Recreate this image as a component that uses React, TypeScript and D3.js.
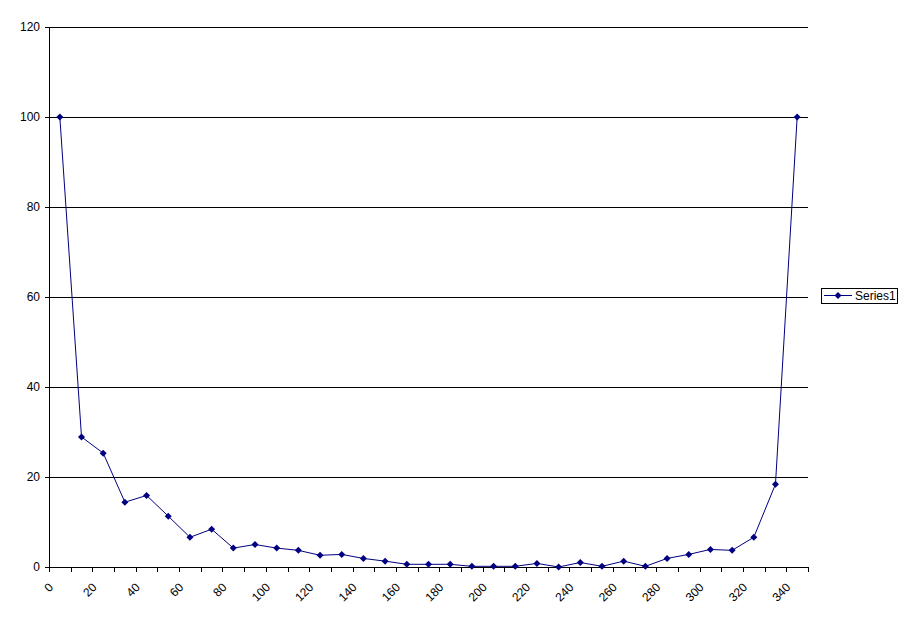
import React, { useEffect } from "react";
import * as d3 from "d3";

const categories = [0, 10, 20, 30, 40, 50, 60, 70, 80, 90, 100, 110, 120, 130, 140, 150, 160, 170, 180, 190, 200, 210, 220, 230, 240, 250, 260, 270, 280, 290, 300, 310, 320, 330, 340];
const series1 = [100, 28.9, 25.3, 14.4, 15.9, 11.3, 6.6, 8.4, 4.2, 5.0, 4.2, 3.7, 2.6, 2.8, 1.9, 1.3, 0.6, 0.6, 0.6, 0.15, 0.15, 0.15, 0.8, 0, 1.0, 0.15, 1.3, 0.15, 1.9, 2.8, 3.9, 3.7, 6.6, 18.4, 100];
const yTicks = [0, 20, 40, 60, 80, 100, 120];
const xLabels = ["0", "20", "40", "60", "80", "100", "120", "140", "160", "180", "200", "220", "240", "260", "280", "300", "320", "340"];
const seriesName = "Series1";

const W = 911, H = 623;
const left = 49, right = 808, top = 27, bottom = 567;
const navy = "#000080";
const font = "'Liberation Sans', Arial, sans-serif";

export default function App() {
  useEffect(() => {
    document.body.style.margin = "0";
  }, []);
  const x = d3.scaleBand<number>().domain(categories).range([left, right]).paddingInner(0).paddingOuter(0);
  const y = d3.scaleLinear().domain([0, 120]).range([bottom, top]);
  const bw = x.bandwidth();
  const cx = (c: number) => (x(c) as number) + bw / 2;
  const line = d3.line<number>().x((_, i) => cx(categories[i])).y((d) => y(d));
  const diamond = (px: number, py: number, r: number) => `M${px},${py - r}L${px + r},${py}L${px},${py + r}L${px - r},${py}Z`;
  const boundaries = d3.range(categories.length + 1).map((i) => left + i * bw);

  return (
    <svg width={W} height={H} style={{ display: "block", background: "#fff" }} fontFamily={font} fontSize={12}>
      <rect x={0} y={0} width={W} height={H} fill="#fff" />
      {yTicks.map((t) => (
        <g key={t}>
          {t > 0 && <line x1={left} x2={right} y1={Math.round(y(t)) + 0.5} y2={Math.round(y(t)) + 0.5} stroke="#000" />}
          <line x1={left - 4} x2={left} y1={Math.round(y(t)) + 0.5} y2={Math.round(y(t)) + 0.5} stroke="#000" />
          <text x={40} y={y(t)} dy="0.35em" textAnchor="end" fill="#000">{t}</text>
        </g>
      ))}
      <line x1={left + 0.5} x2={left + 0.5} y1={top} y2={bottom + 1} stroke="#000" />
      <line x1={left} x2={right} y1={bottom + 0.5} y2={bottom + 0.5} stroke="#000" />
      {boundaries.map((bx, i) => (
        <line key={i} x1={Math.round(bx) + 0.5} x2={Math.round(bx) + 0.5} y1={bottom} y2={bottom + 5} stroke="#000" />
      ))}
      {xLabels.map((lab, i) => {
        const bx = boundaries[i * 2];
        return (
          <text key={lab} transform={`translate(${bx + 5},${588}) rotate(-45)`} textAnchor="end" fill="#000">{lab}</text>
        );
      })}
      <path d={line(series1) || ""} fill="none" stroke={navy} strokeWidth={1} />
      {series1.map((v, i) => (
        <path key={i} d={diamond(cx(categories[i]), y(v), 3.5)} fill={navy} />
      ))}
      <rect x={821.5} y={288.5} width={76} height={15} fill="#fff" stroke="#000" />
      <line x1={824} x2={852} y1={295.5} y2={295.5} stroke={navy} />
      <path d={diamond(838, 295.5, 3.5)} fill={navy} />
      <text x={855} y={300} fill="#000">{seriesName}</text>
    </svg>
  );
}
